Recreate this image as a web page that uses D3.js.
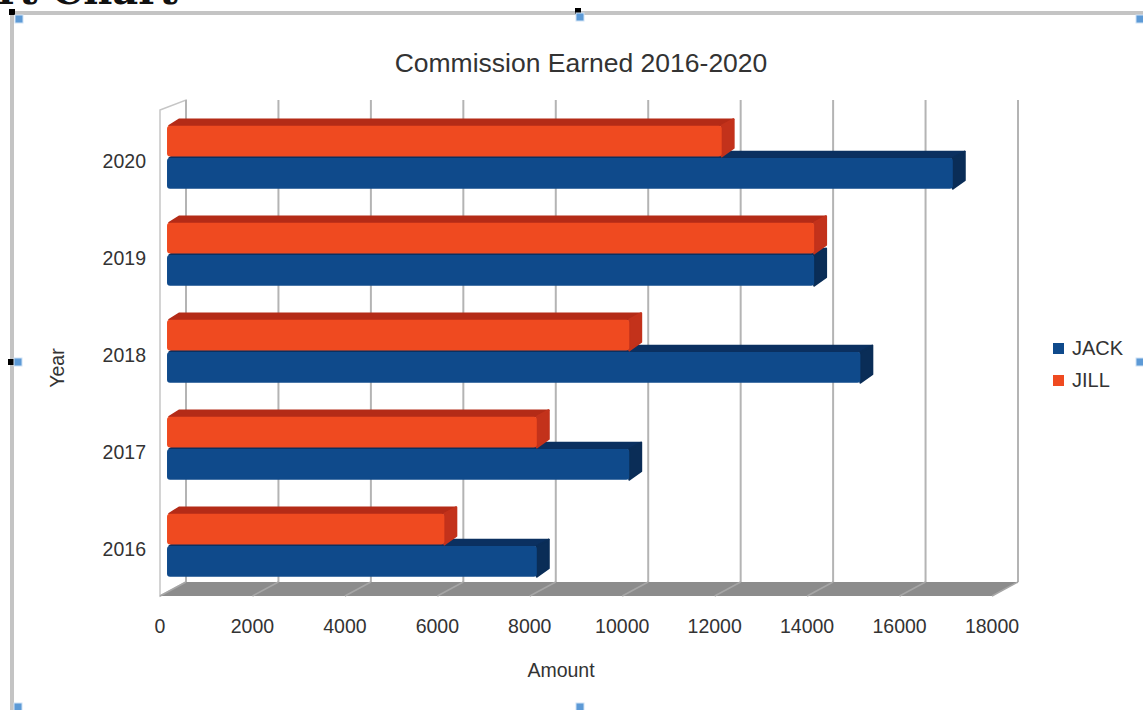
<!DOCTYPE html>
<html>
<head>
<meta charset="utf-8">
<script src="https://cdn.jsdelivr.net/npm/d3@7"></script>
<style>
  body { margin: 0; background: #fff; overflow: hidden; }
  text { font-family: "Liberation Sans", Arial, sans-serif; fill: #333; }
</style>
</head>
<body>
<svg id="chart" width="1143" height="710"></svg>
<script>
  const years = ["2016", "2017", "2018", "2019", "2020"];
  const jack = [8000, 10000, 15000, 14000, 17000];
  const jill = [6000, 8000, 10000, 14000, 12000];
  const seriesNames = ["JACK", "JILL"];
  const xTicks = [0, 2000, 4000, 6000, 8000, 10000, 12000, 14000, 16000, 18000];

  const colors = {
    JACK: {front: "#0f4a8b", top: "#0b3060", side: "#0a2d57"},
    JILL: {front: "#ef4a20", top: "#b42b17", side: "#c3321b"}
  };

  const svg = d3.select("#chart");

  // oblique 3d: full depth of the wall box, bar sits between zf and zb
  const DX = 26, DY = -14;
  const zf = 0.27, zb = 0.73;

  const x = d3.scaleLinear().domain([0, 18000]).range([160, 992]);
  const y = d3.scaleBand().domain(years.slice().reverse())
    .range([112.5, 597.5]).paddingInner(0.35).paddingOuter(0.175);
  const sub = d3.scaleBand().domain(["JILL", "JACK"])
    .range([0, y.bandwidth()]).paddingInner(0.05);

  // editor frame round the chart object
  const frame = svg.append("g");
  frame.append("text").attr("x", -28).attr("y", 4)
    .style("font-family", "'DejaVu Serif', serif").style("font-weight", "bold")
    .style("font-size", "40px").style("fill", "#111").text("art Chart");
  frame.append("rect").attr("x", 10).attr("y", 11).attr("width", 1133).attr("height", 4).attr("fill", "#c4c4c4");
  frame.append("rect").attr("x", 10).attr("y", 11).attr("width", 4).attr("height", 699).attr("fill", "#c4c4c4");
  frame.append("rect").attr("x", 9).attr("y", 9).attr("width", 6).attr("height", 6).attr("fill", "#000");
  frame.append("rect").attr("x", 575).attr("y", 8).attr("width", 6).attr("height", 6).attr("fill", "#000");
  frame.append("rect").attr("x", 8).attr("y", 359).attr("width", 6).attr("height", 6).attr("fill", "#000");
  [[15, 15], [576, 13], [1136, 15], [14, 358], [1136, 358], [14, 703], [576, 703]].forEach(p => {
    frame.append("rect").attr("x", p[0]).attr("y", p[1]).attr("width", 8).attr("height", 8)
      .attr("fill", "#5d9ad6").attr("stroke", "#cfe2f5").attr("stroke-width", 1);
  });

  // walls
  const yTop = 100, yBack = 582, yFront = 596;
  svg.append("polygon")
    .attr("points", [[160, 110], [160 + DX, yTop], [160 + DX, yBack], [160, yFront]].join(" "))
    .attr("fill", "#fff").attr("stroke", "#c6c6c6").attr("stroke-width", 1.5);

  svg.append("g").selectAll("line").data(xTicks).join("line")
    .attr("x1", d => x(d) + DX).attr("x2", d => x(d) + DX)
    .attr("y1", yTop).attr("y2", yBack)
    .attr("stroke", "#b4b4b4").attr("stroke-width", 2);

  // floor
  svg.append("polygon")
    .attr("points", [[x(0), yFront], [x(18000), yFront], [x(18000) + DX, yBack], [x(0) + DX, yBack]].join(" "))
    .attr("fill", "#8c8c8c");
  svg.append("g").selectAll("line").data(xTicks).join("line")
    .attr("x1", d => x(d)).attr("x2", d => x(d) + DX)
    .attr("y1", yFront).attr("y2", yBack)
    .attr("stroke", "#a6a6a6").attr("stroke-width", 1.5);

  // bars, drawn bottom row first so upper bars cover the tops below
  const rows = [];
  years.forEach((yr, i) => {
    rows.push({year: yr, name: "JACK", value: jack[i]});
    rows.push({year: yr, name: "JILL", value: jill[i]});
  });

  const ddx = (zb - zf) * DX, ddy = (zb - zf) * DY;
  const bars = svg.append("g").selectAll("g").data(rows).join("g");
  bars.each(function(d) {
    const g = d3.select(this);
    const c = colors[d.name];
    const xl = x(0) + zf * DX, xr = x(d.value) + zf * DX;
    const yt = y(d.year) + sub(d.name) + zf * DY;
    const yb = yt + sub.bandwidth();
    g.append("polygon")
      .attr("points", [[xl + 2, yt], [xr, yt], [xr + ddx, yt + ddy], [xl + ddx, yt + ddy]].join(" "))
      .attr("fill", c.top).attr("stroke", c.top).attr("stroke-width", 1.5).attr("stroke-linejoin", "round");
    g.append("polygon")
      .attr("points", [[xr, yt], [xr + ddx, yt + ddy], [xr + ddx, yb + ddy - 2], [xr, yb]].join(" "))
      .attr("fill", c.side).attr("stroke", c.side).attr("stroke-width", 2).attr("stroke-linejoin", "round");
    g.append("rect")
      .attr("x", xl).attr("y", yt).attr("width", xr - xl).attr("height", yb - yt)
      .attr("rx", 3).attr("fill", c.front);
  });

  // axis labels
  svg.append("g").selectAll("text").data(xTicks).join("text")
    .attr("x", d => x(d)).attr("y", 633)
    .attr("text-anchor", "middle").style("font-size", "19.5px")
    .text(d => d);

  svg.append("g").selectAll("text").data(years).join("text")
    .attr("x", 146).attr("y", d => y(d) + y.bandwidth() / 2)
    .attr("dy", "0.35em").attr("text-anchor", "end").style("font-size", "19.5px")
    .text(d => d);

  svg.append("text").attr("x", 581).attr("y", 72)
    .attr("text-anchor", "middle").style("font-size", "26.5px")
    .text("Commission Earned 2016-2020");

  svg.append("text").attr("x", 561).attr("y", 677)
    .attr("text-anchor", "middle").style("font-size", "19.5px")
    .text("Amount");

  svg.append("text").attr("transform", "translate(64,368) rotate(-90)")
    .attr("text-anchor", "middle").style("font-size", "19.5px")
    .text("Year");

  // legend
  const legend = svg.append("g").selectAll("g").data(seriesNames).join("g")
    .attr("transform", (d, i) => `translate(1053,${343 + i * 32})`);
  legend.append("rect").attr("width", 11).attr("height", 11)
    .attr("fill", d => colors[d].front);
  legend.append("text").attr("x", 19).attr("y", 12)
    .style("font-size", "20px").text(d => d);
</script>
</body>
</html>
